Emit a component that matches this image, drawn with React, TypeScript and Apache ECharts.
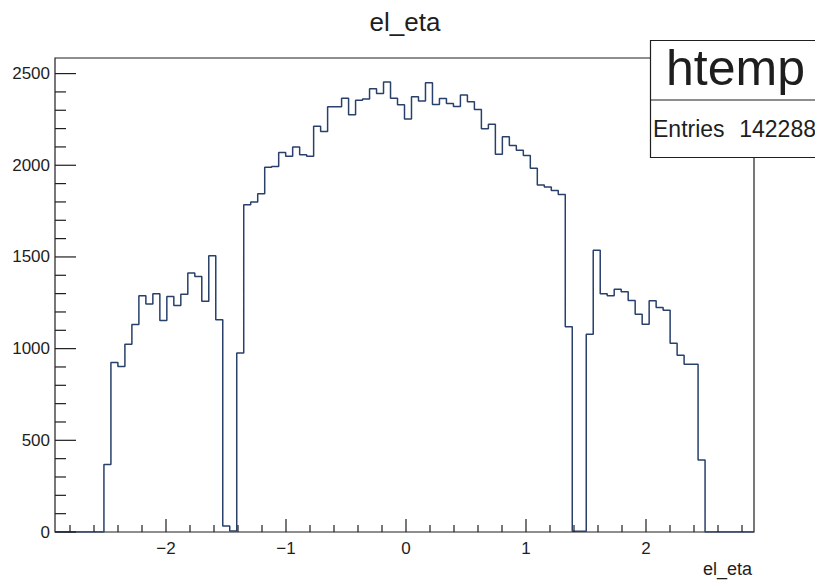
import React, { useEffect, useRef } from "react";
import * as echarts from "echarts";

// Histogram definition (ROOT TH1 "htemp", 100 bins)
const binCount = 100;
const xMin = -2.925;
const xMax = 2.9;
const yMax = 2585;

// Bin contents of el_eta (bin 0 .. bin 99)
const binValues: number[] = [
  0, 0, 0, 0, 0, 0, 0, 368, 925, 902,
  1024, 1131, 1288, 1244, 1299, 1153, 1284, 1235, 1297, 1412,
  1393, 1259, 1506, 1158, 33, 5, 976, 1785, 1800, 1845,
  1989, 1993, 2069, 2049, 2100, 2058, 2049, 2213, 2184, 2319,
  2319, 2366, 2276, 2355, 2361, 2417, 2392, 2454, 2366, 2330,
  2253, 2374, 2350, 2450, 2332, 2364, 2337, 2321, 2383, 2346,
  2304, 2199, 2224, 2060, 2155, 2108, 2082, 2053, 1984, 1893,
  1882, 1863, 1840, 1120, 4, 4, 1079, 1536, 1299, 1288,
  1324, 1310, 1262, 1188, 1133, 1261, 1224, 1210, 1030, 964,
  915, 915, 392, 0, 0, 0, 0, 0, 0, 0,
];

// Axis tick labels
const xTickLabels = [-2, -1, 0, 1, 2];
const xMinorStep = 0.2;
const yTickLabels = [0, 500, 1000, 1500, 2000, 2500];
const yMinorStep = 100;

const titleText = "el_eta";
const xAxisTitle = "el_eta";
const statsName = "htemp";
const statsEntriesLabel = "Entries";
const statsEntries = "142288";

const FONT = "'Liberation Sans', Arial, Helvetica, sans-serif";
const INK = "#1e1e1e";

function fmt(v: number): string {
  return v < 0 ? "\u2212" + Math.abs(v) : String(v);
}

export default function App() {
  const ref = useRef<HTMLDivElement | null>(null);

  useEffect(() => {
    if (!ref.current) return;
    const chart = echarts.init(ref.current, undefined, { renderer: "svg" });

    const binWidth = (xMax - xMin) / binCount;
    const stepData: number[][] = [];
    for (let i = 0; i <= binCount; i++) {
      const v = binValues[Math.min(i, binCount - 1)];
      stepData.push([xMin + i * binWidth, v]);
    }

    // tick lists: [value, isMajor]
    const xTicks: number[][] = [];
    const nx = Math.round(2.8 / xMinorStep);
    for (let i = -nx; i <= nx; i++) {
      const v = Math.round(i * xMinorStep * 1000) / 1000;
      xTicks.push([v, xTickLabels.includes(v) ? 1 : 0]);
    }
    const yTicks: number[][] = [];
    for (let v = 0; v <= yMax; v += yMinorStep) {
      yTicks.push([v, yTickLabels.includes(v) ? 1 : 0]);
    }

    chart.setOption({
      animation: false,
      backgroundColor: "#ffffff",
      grid: {
        left: 55,
        right: 61,
        top: 58,
        bottom: 49,
        show: true,
        borderColor: INK,
        borderWidth: 1.2,
        backgroundColor: "transparent",
      },
      xAxis: {
        type: "value",
        min: xMin,
        max: xMax,
        axisLine: { show: false },
        axisTick: { show: false },
        axisLabel: { show: false },
        splitLine: { show: false },
      },
      yAxis: {
        type: "value",
        min: 0,
        max: yMax,
        axisLine: { show: false },
        axisTick: { show: false },
        axisLabel: { show: false },
        splitLine: { show: false },
      },
      series: [
        {
          type: "line",
          step: "end",
          data: stepData,
          symbol: "none",
          lineStyle: { color: "#28406a", width: 1.5 },
          z: 3,
        },
        {
          type: "custom",
          data: xTicks,
          z: 4,
          clip: false,
          renderItem: (params: any, api: any) => {
            const v = api.value(0);
            const major = api.value(1) === 1;
            const p = api.coord([v, 0]);
            const len = major ? 13 : 7;
            const children: any[] = [
              {
                type: "line",
                shape: { x1: p[0], y1: p[1], x2: p[0], y2: p[1] - len },
                style: { stroke: INK, lineWidth: 1.2 },
              },
            ];
            if (major) {
              children.push({
                type: "text",
                x: p[0],
                y: p[1] + 16,
                style: {
                  text: fmt(v),
                  fill: INK,
                  font: `17px ${FONT}`,
                  align: "center",
                  verticalAlign: "middle",
                },
              });
            }
            return { type: "group", children };
          },
        },
        {
          type: "custom",
          data: yTicks,
          z: 4,
          clip: false,
          renderItem: (params: any, api: any) => {
            const v = api.value(0);
            const major = api.value(1) === 1;
            const p = api.coord([xMin, v]);
            const len = major ? 21 : 11;
            const children: any[] = [
              {
                type: "line",
                shape: { x1: p[0], y1: p[1], x2: p[0] + len, y2: p[1] },
                style: { stroke: INK, lineWidth: 1.2 },
              },
            ];
            if (major) {
              children.push({
                type: "text",
                x: p[0] - 5,
                y: p[1],
                style: {
                  text: String(v),
                  fill: INK,
                  font: `17px ${FONT}`,
                  align: "right",
                  verticalAlign: "middle",
                },
              });
            }
            return { type: "group", children };
          },
        },
      ],
      graphic: [
        {
          type: "text",
          x: 405,
          y: 22,
          style: {
            text: titleText,
            fill: INK,
            font: `26px ${FONT}`,
            align: "center",
            verticalAlign: "middle",
          },
        },
        {
          type: "text",
          x: 752,
          y: 569,
          style: {
            text: xAxisTitle,
            fill: INK,
            font: `18px ${FONT}`,
            align: "right",
            verticalAlign: "middle",
          },
        },
        {
          type: "rect",
          z: 10,
          shape: { x: 650.5, y: 40.5, width: 200, height: 117 },
          style: { fill: "#ffffff", stroke: INK, lineWidth: 1.2 },
        },
        {
          type: "line",
          z: 11,
          shape: { x1: 650.5, y1: 100, x2: 815, y2: 100 },
          style: { stroke: INK, lineWidth: 1.2 },
        },
        {
          type: "text",
          z: 11,
          x: 666,
          y: 68,
          style: {
            text: statsName,
            fill: INK,
            font: `50px ${FONT}`,
            align: "left",
            verticalAlign: "middle",
          },
        },
        {
          type: "text",
          z: 11,
          x: 653,
          y: 129,
          style: {
            text: statsEntriesLabel,
            fill: INK,
            font: `23px ${FONT}`,
            align: "left",
            verticalAlign: "middle",
          },
        },
        {
          type: "text",
          z: 11,
          x: 816,
          y: 129,
          style: {
            text: statsEntries,
            fill: INK,
            font: `23px ${FONT}`,
            align: "right",
            verticalAlign: "middle",
          },
        },
      ],
    });

    return () => {
      chart.dispose();
    };
  }, []);

  return (
    <div
      ref={ref}
      style={{
        position: "fixed",
        left: 0,
        top: 0,
        width: 815,
        height: 581,
        background: "#ffffff",
      }}
    />
  );
}
